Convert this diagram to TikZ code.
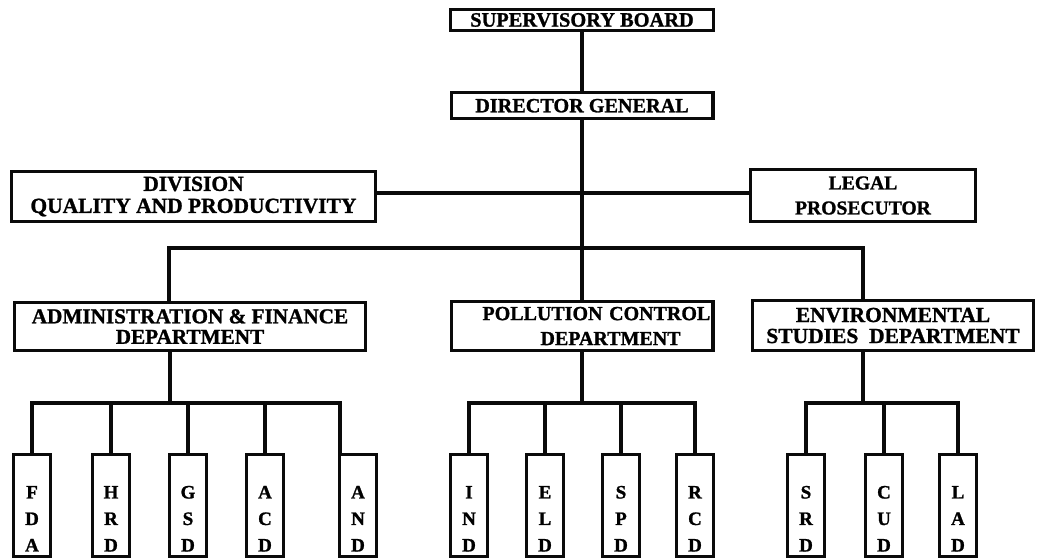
\documentclass[tikz,border=0pt]{standalone}
\usepackage{fontspec}
\setmainfont{Liberation Serif}[BoldFeatures={FakeBold=1.2}]
\usepackage{tikz}
\usetikzlibrary{positioning}
\definecolor{orgink}{HTML}{0A0A0A}
\tikzset{
  orgbox/.style={draw=orgink,line width=3.2pt,align=center,inner sep=1pt},
  unitbox/.style={draw=orgink,line width=3.2pt,inner sep=0pt,minimum width=36.8pt,
                  minimum height=101.4pt,font=\bfseries\fontsize{19}{26.5}\selectfont},
  orgline/.style={draw=orgink,line width=3.2pt}
}
\newcommand{\unitletters}[3]{\raisebox{-18.5pt}[0pt][0pt]{\begin{tabular}{@{}c@{}}#1\\#2\\#3\end{tabular}}}

\begin{document}
\begin{tikzpicture}[x=1pt,y=-1pt]
    \useasboundingbox (0,0) rectangle (1037,558);

    \node[orgbox,minimum width=262.8pt,minimum height=20.8pt,
          font=\bfseries\fontsize{20.4}{22}\selectfont] (sb) at (582,20) {SUPERVISORY BOARD};
    \node[orgbox,below=59.2pt of sb,minimum width=261.8pt,minimum height=25.8pt,
          font=\bfseries\fontsize{20.2}{22}\selectfont] (dg) {DIRECTOR GENERAL};

    \node[orgbox,minimum width=363.8pt,minimum height=49.8pt,
          font=\bfseries\fontsize{21.5}{22}\selectfont] (div) at (193.5,196.5) {DIVISION\\QUALITY AND PRODUCTIVITY};
    \node[orgbox,minimum width=224.8pt,minimum height=51.8pt,
          font=\bfseries\fontsize{19.6}{25}\selectfont] (legal) at (863,195.5) {LEGAL\\PROSECUTOR};

    \node[orgbox,minimum width=350.8pt,minimum height=47.8pt,
          font=\bfseries\fontsize{21.2}{20.5}\selectfont] (adm) at (190,326.5) {ADMINISTRATION \& FINANCE\\DEPARTMENT};
    \node[orgbox,text width=259.8pt,align=left,minimum height=48.8pt,
          font=\bfseries\fontsize{20}{25}\selectfont] (pol) at (582,326) {\hspace*{30.4pt}POLLUTION CONTROL\\\hspace*{88.4pt}DEPARTMENT};
    \node[orgbox,minimum width=280.8pt,minimum height=49.8pt,
          font=\bfseries\fontsize{21.5}{21}\selectfont] (env) at (893,325.5) {ENVIRONMENTAL\\STUDIES\ \ DEPARTMENT};

    % administration & finance units
    \node[unitbox] (fda) at (32,505.5) {\unitletters{F}{D}{A}};
    \node[unitbox] (hrd) at (111,505.5) {\unitletters{H}{R}{D}};
    \node[unitbox] (gsd) at (188,505.5) {\unitletters{G}{S}{D}};
    \node[unitbox] (acd) at (265,505.5) {\unitletters{A}{C}{D}};
    \node[unitbox] (and) at (358,505.5) {\unitletters{A}{N}{D}};
    % pollution control units
    \node[unitbox] (ind) at (469,505.5) {\unitletters{I}{N}{D}};
    \node[unitbox] (eld) at (545,505.5) {\unitletters{E}{L}{D}};
    \node[unitbox] (spd) at (621,505.5) {\unitletters{S}{P}{D}};
    \node[unitbox] (rcd) at (695,505.5) {\unitletters{R}{C}{D}};
    % environmental studies units
    \node[unitbox] (srd) at (806,505.5) {\unitletters{S}{R}{D}};
    \node[unitbox] (cud) at (884,505.5) {\unitletters{C}{U}{D}};
    \node[unitbox] (lad) at (958,505.5) {\unitletters{L}{A}{D}};

    \coordinate (mainbus) at (582,248);
    \coordinate (admbus) at (170,403);
    \coordinate (envbus) at (863,403);

    \draw[orgline] (sb) -- (dg);
    \draw[orgline] (dg.south) -- (mainbus);
    \draw[orgline] ([yshift=3.5pt]div.east) -- ([yshift=3.5pt]div.east -| legal.west);
    \draw[orgline] (mainbus) -| ([xshift=-21pt]adm.north);
    \draw[orgline] (mainbus) -- (pol.north);
    \draw[orgline] (mainbus) -| ([xshift=-30pt]env.north);

    \draw[orgline] ([xshift=-20pt]adm.south) -- (admbus);
    \draw[orgline] (admbus) -| (fda.north);
    \draw[orgline] (admbus) -| (hrd.north);
    \draw[orgline] (admbus) -| (gsd.north);
    \draw[orgline] (admbus) -| (acd.north);
    \draw[orgline] (admbus) -| ([xshift=2pt]and.north west);

    \draw[orgline] (pol.south) -- (pol.south |- admbus) coordinate (polbus);
    \draw[orgline] (polbus) -| (ind.north);
    \draw[orgline] (polbus) -| (eld.north);
    \draw[orgline] (polbus) -| (spd.north);
    \draw[orgline] (polbus) -| (rcd.north);

    \draw[orgline] ([xshift=-30pt]env.south) -- (envbus);
    \draw[orgline] (envbus) -| (srd.north);
    \draw[orgline] (envbus) -| (cud.north);
    \draw[orgline] (envbus) -| (lad.north);
\end{tikzpicture}
\end{document}
